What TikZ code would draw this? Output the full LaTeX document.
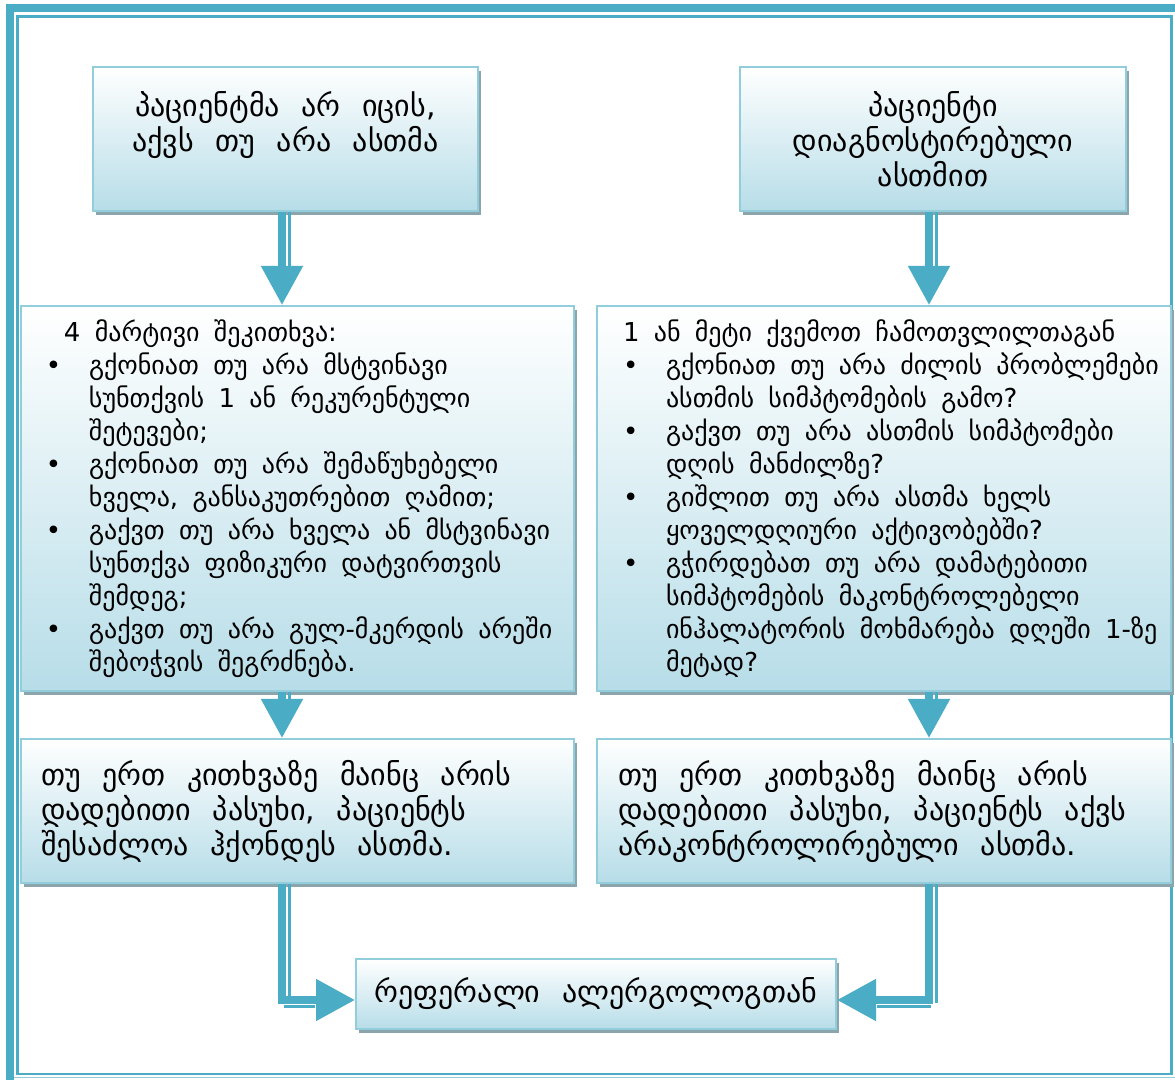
\documentclass[tikz,border=0pt]{standalone}
\usepackage{fontspec}
\setmainfont{DejaVu Sans}
\usetikzlibrary{arrows.meta,calc,shadows,positioning}

\definecolor{framecol}{RGB}{75,172,198}
\definecolor{boxline}{RGB}{146,205,220}
\definecolor{boxfill}{RGB}{183,221,232}
\definecolor{shadowcol}{RGB}{140,165,173}

\newcommand{\itm}[1]{\mbox{\makebox[21.5pt][l]{\textbullet}#1}}
\newcommand{\cnt}[1]{\mbox{\hspace*{21.5pt}#1}}
\newcommand{\bigspace}{\spaceskip=0.72em plus 0.1em\relax}
\newcommand{\listspace}{\spaceskip=0.55em plus 0.1em\relax}

\tikzset{
	box/.style={draw=boxline, line width=1pt, top color=white, bottom color=boxfill, inner sep=0pt,
		anchor=north west,
		drop shadow={shadow xshift=1.5pt, shadow yshift=-2pt, fill=shadowcol, opacity=1}},
	bigtext/.style={font=\fontsize{15}{17.5}\selectfont, execute at begin node=\bigspace},
	listtext/.style={font=\fontsize{13}{16.5}\selectfont, execute at begin node=\listspace},
	shaft/.style={draw=framecol, line width=4pt},
	thinline/.style={draw=framecol, line width=1.25pt},
	headtip/.style={-{Triangle[length=19.5pt,width=20pt]}, color=framecol},
}

\begin{document}
\begin{tikzpicture}[x=0.5pt,y=-0.5pt]

		\useasboundingbox (0,0) rectangle (1175,1080);

		% page frame
		\draw[framecol, line width=4pt] (10,1080) -- (10,8) -- (1175,8);
		\draw[framecol, line width=1.25pt] (17.5,16.5) rectangle (1171.5,1074);
		\draw[framecol!60, line width=0.8pt] (14,1077.5) -- (1175,1077.5);

		\node[box, bigtext, minimum width=192.5pt, minimum height=72pt, align=center] (q1) at (92,66)
			{პაციენტმა არ იცის,\\აქვს თუ არა ასთმა\\~};
		\node[box, bigtext, minimum width=193pt, minimum height=72pt, align=center] (q2) at (739,66)
			{პაციენტი\\დიაგნოსტირებული\\ასთმით};

		\node[box, listtext, minimum width=276.5pt, minimum height=192.5pt, align=left, text width=251.5pt] (q3) at (20,305)
			{\mbox{\hspace*{9pt}4 მარტივი შეკითხვა:}\\
			\itm{გქონიათ თუ არა მსტვინავი}\\
			\cnt{სუნთქვის 1 ან რეკურენტული}\\
			\cnt{შეტევები;}\\
			\itm{გქონიათ თუ არა შემაწუხებელი}\\
			\cnt{ხველა, განსაკუთრებით ღამით;}\\
			\itm{გაქვთ თუ არა ხველა ან მსტვინავი}\\
			\cnt{სუნთქვა ფიზიკური დატვირთვის}\\
			\cnt{შემდეგ;}\\
			\itm{გაქვთ თუ არა გულ-მკერდის არეში}\\
			\cnt{შებოჭვის შეგრძნება.}};
		\node[box, listtext, minimum width=287pt, minimum height=192.5pt, align=left, text width=261pt] (q4) at (596,305)
			{\mbox{1 ან მეტი ქვემოთ ჩამოთვლილთაგან}\\
			\itm{გქონიათ თუ არა ძილის პრობლემები}\\
			\cnt{ასთმის სიმპტომების გამო?}\\
			\itm{გაქვთ თუ არა ასთმის სიმპტომები}\\
			\cnt{დღის მანძილზე?}\\
			\itm{გიშლით თუ არა ასთმა ხელს}\\
			\cnt{ყოველდღიური აქტივობებში?}\\
			\itm{გჭირდებათ თუ არა დამატებითი}\\
			\cnt{სიმპტომების მაკონტროლებელი}\\
			\cnt{ინჰალატორის მოხმარება დღეში 1-ზე}\\
			\cnt{მეტად?}};

		\node[box, bigtext, minimum width=276.5pt, minimum height=72pt, align=left, text width=256.5pt] (q5) at (20,738)
			{\mbox{თუ ერთ კითხვაზე მაინც არის}\\\mbox{დადებითი პასუხი, პაციენტს}\\\mbox{შესაძლოა ჰქონდეს ასთმა.}};
		\node[box, bigtext, minimum width=287pt, minimum height=72pt, align=left, text width=266pt] (q6) at (596,738)
			{\mbox{თუ ერთ კითხვაზე მაინც არის}\\\mbox{დადებითი პასუხი, პაციენტს აქვს}\\\mbox{არაკონტროლირებული ასთმა.}};

		\node[box, bigtext, minimum width=240pt, minimum height=35pt, align=center] (q7) at (355,958)
			{რეფერალი ალერგოლოგთან};

		\coordinate (lx) at (282,0);
		\coordinate (rx) at (929,0);
		\coordinate (by) at (0,1000);

		% arrows down
		\draw[shaft, headtip] (q1.south -| lx) -- (q3.north -| lx);
		\draw[thinline] ($(q1.south -| lx)+(7.7,0)$) -- ++(0,56);
		\draw[shaft, headtip] (q2.south -| rx) -- (q4.north -| rx);
		\draw[thinline] ($(q2.south -| rx)+(7.7,0)$) -- ++(0,56);
		\draw[shaft, headtip] (q3.south -| lx) -- (q5.north -| lx);
		\draw[thinline] ($(q3.south -| lx)+(7.7,0)$) -- ++(0,9);
		\draw[shaft, headtip] (q4.south -| rx) -- (q6.north -| rx);
		\draw[thinline] ($(q4.south -| rx)+(7.7,0)$) -- ++(0,9);

		% to the allergist
		\draw[shaft, headtip] (q5.south -| lx) |- (q7.west |- by);
		\draw[thinline] ($(q5.south -| lx)+(7.5,0)$) -- ++(0,112);
		\draw[thinline] ($(lx |- by)+(2,6.5)$) -- ($(q7.west |- by)+(-40,6.5)$);
		\draw[shaft, headtip] (q6.south -| rx) |- (q7.east |- by);
		\draw[thinline] ($(q6.south -| rx)+(7.7,0)$) -- ++(0,119);
		\draw[thinline] ($(rx |- by)+(2,6.5)$) -- ($(q7.east |- by)+(40,6.5)$);

\end{tikzpicture}
\end{document}
